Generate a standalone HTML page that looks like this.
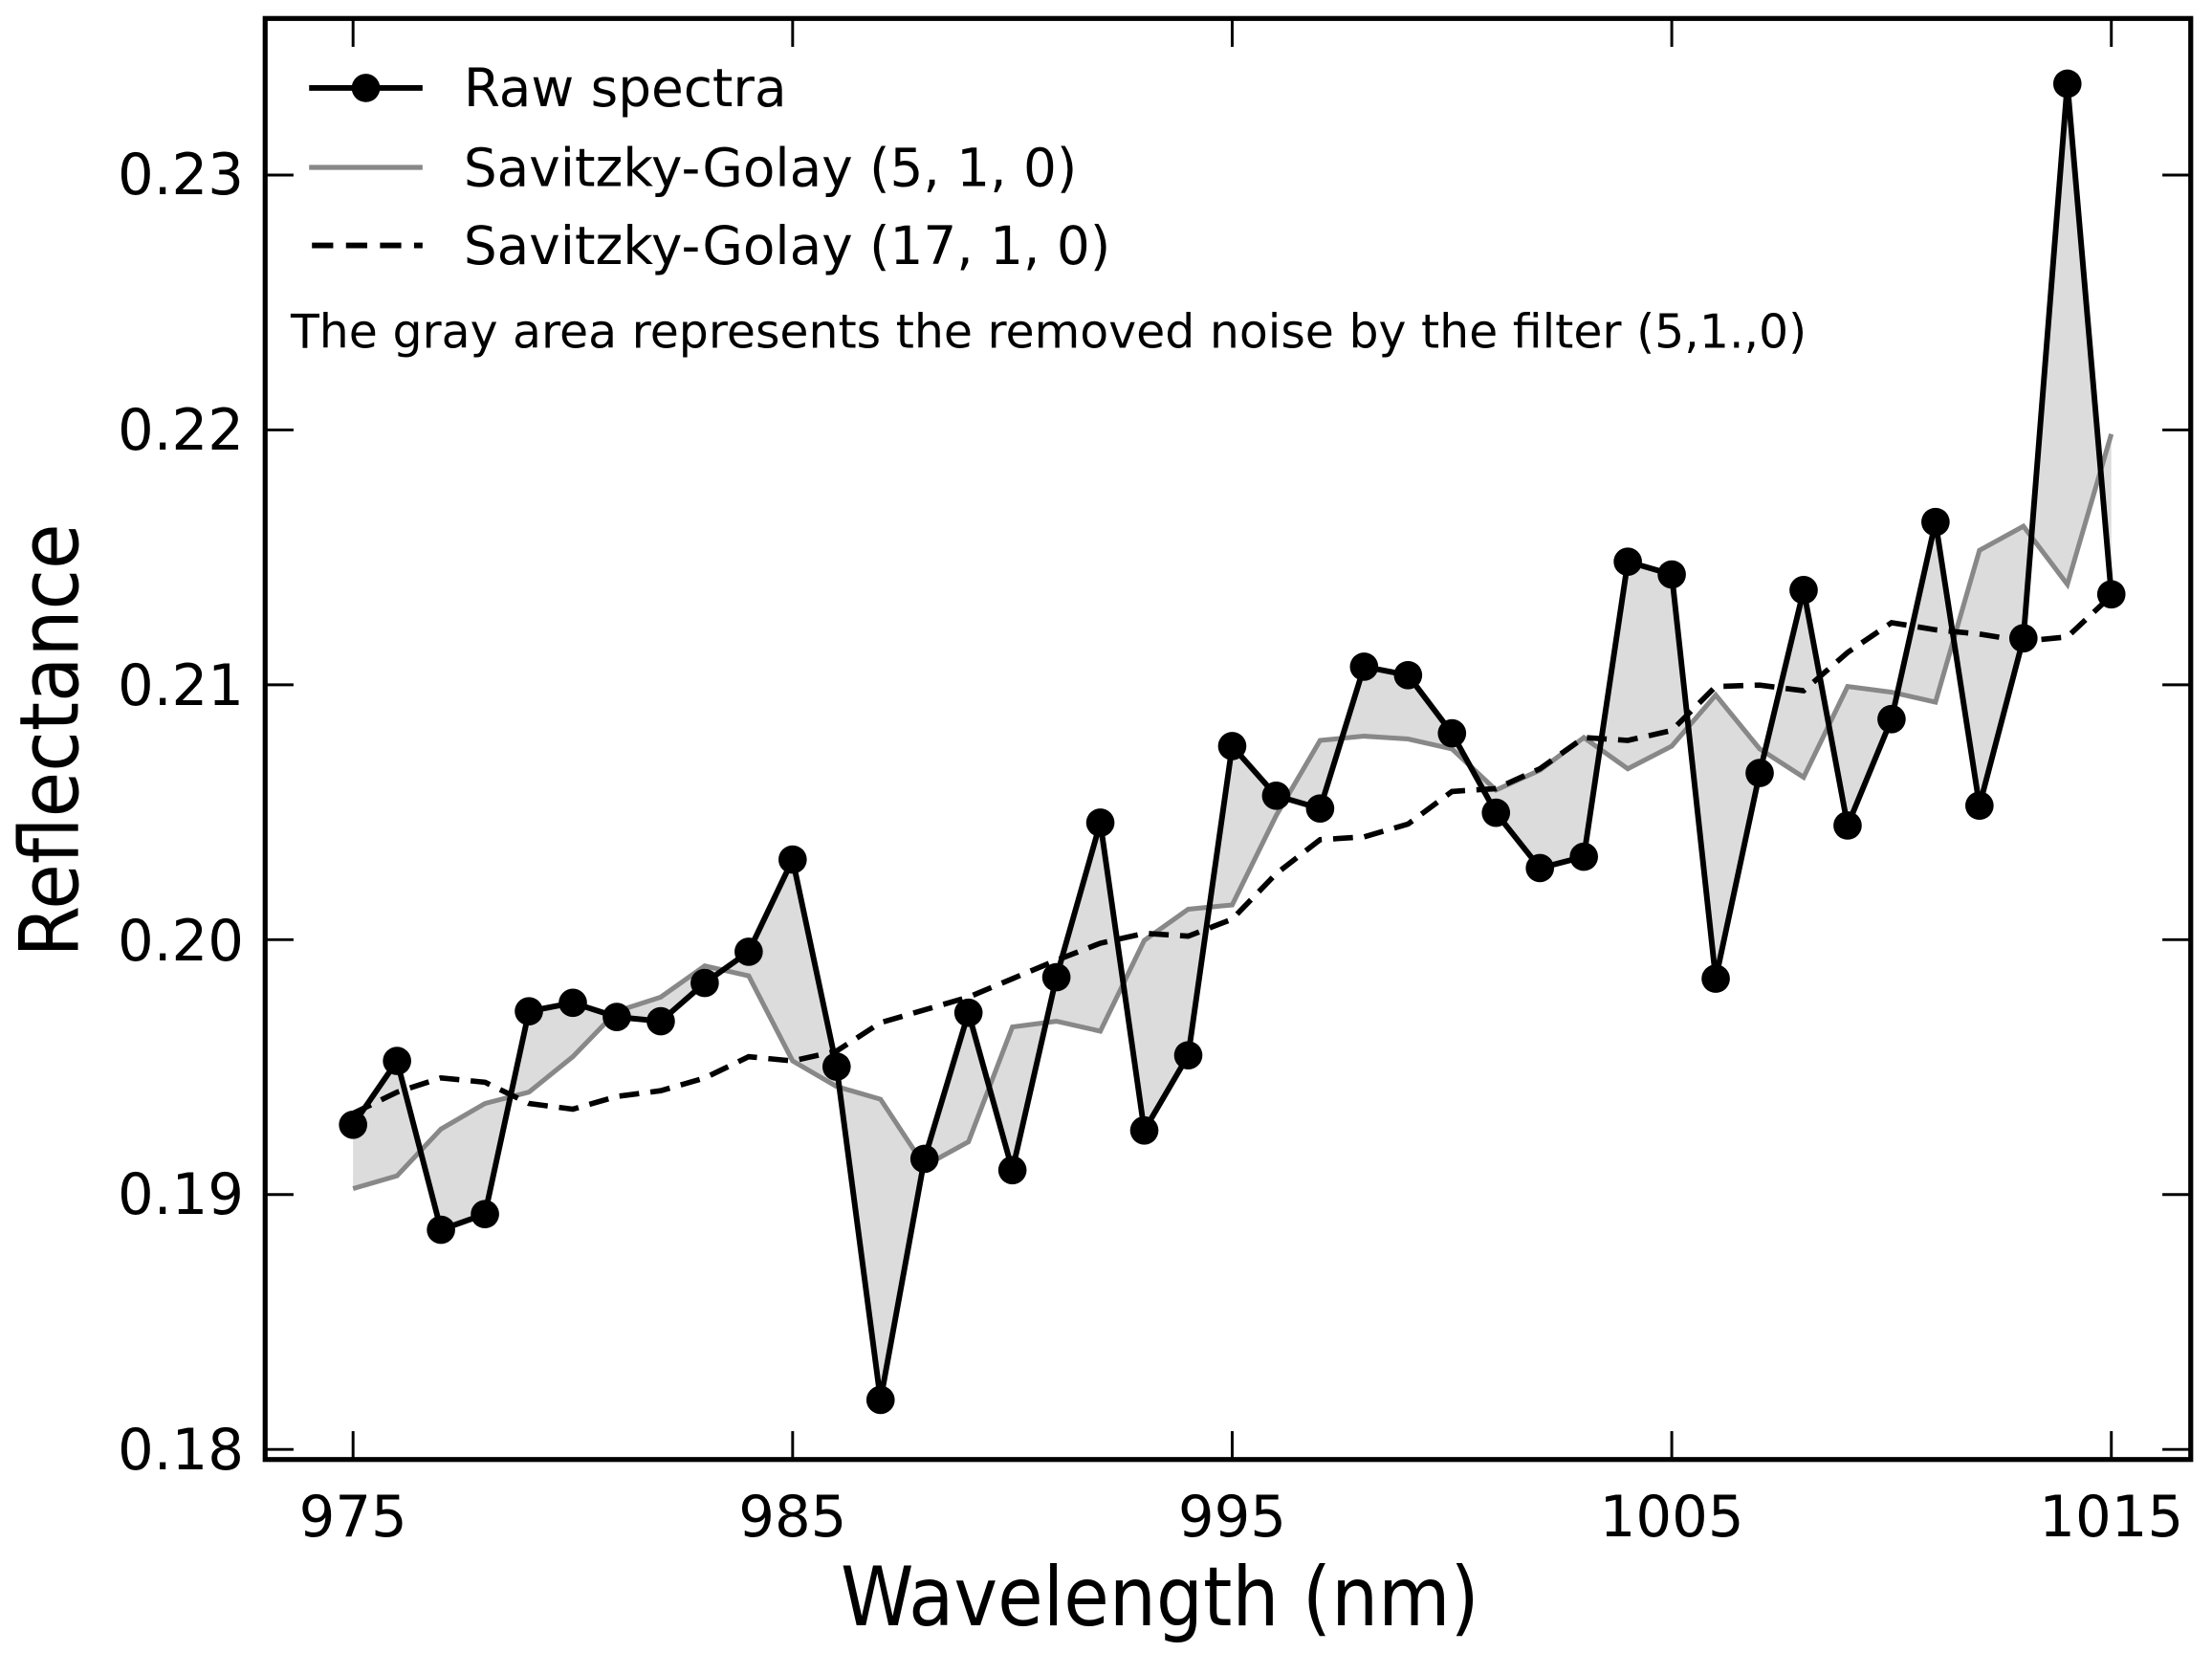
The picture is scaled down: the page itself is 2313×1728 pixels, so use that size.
<!DOCTYPE html>
<html><head><meta charset="utf-8"><style>
html,body{margin:0;padding:0;background:#fff;}
svg{display:block;}
text{font-family:"DejaVu Sans","Liberation Sans",sans-serif;fill:#000;}
.c{font-family:"DejaVu Sans Condensed","DejaVu Sans",sans-serif;}
</style></head><body>
<svg width="2313" height="1728" viewBox="0 0 1560 1165.4" xmlns="http://www.w3.org/2000/svg">
<defs>
<marker id="dot" markerUnits="userSpaceOnUse" markerWidth="24" markerHeight="24" refX="12" refY="12" viewBox="0 0 24 24"><circle cx="12" cy="12" r="10" fill="#000"/></marker>
</defs>
<rect width="1560" height="1166" fill="#fff"/>
<polygon fill="#dcdcdc" stroke="none" points="249,793 280,748 311,867 342,856 373,713 404,707 435,717 466,720 497,693 528,671 559,606 590,752 621,987 652,817 683,714 714,825 745,689 776,580 807,797 838,744 869,526 900,561 931,570 962,470 993,476 1024,517 1055,573 1086,612 1117,604 1148,396 1179,405 1210,690 1241,545 1272,416 1303,582 1334,507 1365,368 1396,568 1427,450 1458,59 1489,419 1489,306 1458,412 1427,371 1396,388 1365,495 1334,488 1303,484 1272,548 1241,528 1210,490 1179,526 1148,542 1117,520 1086,543 1055,557 1024,528 993,521 962,519 931,522 900,575 869,638 838,641 807,663 776,727 745,720 714,724 683,805 652,822 621,775 590,766 559,748 528,688 497,681 466,703 435,713 404,745 373,770 342,778 311,796 280,829 249,838"/>
<polyline fill="none" stroke="#888" stroke-width="3.4" points="249,838 280,829 311,796 342,778 373,770 404,745 435,713 466,703 497,681 528,688 559,748 590,766 621,775 652,822 683,805 714,724 745,720 776,727 807,663 838,641 869,638 900,575 931,522 962,519 993,521 1024,528 1055,557 1086,543 1117,520 1148,542 1179,526 1210,490 1241,528 1272,548 1303,484 1334,488 1365,495 1396,388 1427,371 1458,412 1489,306"/>
<polyline fill="none" stroke="#000" stroke-width="3.8" stroke-dasharray="14,8" points="249,785 280,770 311,760 342,763 373,778 404,782 435,773 466,769 497,760 528,745 559,748 590,741 621,721 652,712 683,703 714,690 745,677 776,665 807,658 838,660 869,648 900,616 931,592 962,590 993,581 1024,558 1055,556 1086,542 1117,520 1148,522 1179,515 1210,484 1241,483 1272,487 1303,460 1334,439 1365,444 1396,447 1427,452 1458,449 1489,420"/>
<polyline fill="none" stroke="#000" stroke-width="4" stroke-linejoin="round" marker-start="url(#dot)" marker-mid="url(#dot)" marker-end="url(#dot)" points="249,793 280,748 311,867 342,856 373,713 404,707 435,717 466,720 497,693 528,671 559,606 590,752 621,987 652,817 683,714 714,825 745,689 776,580 807,797 838,744 869,526 900,561 931,570 962,470 993,476 1024,517 1055,573 1086,612 1117,604 1148,396 1179,405 1210,690 1241,545 1272,416 1303,582 1334,507 1365,368 1396,568 1427,450 1458,59 1489,419"/>
<rect x="187" y="13" width="1358" height="1016" fill="none" stroke="#000" stroke-width="3.5"/>
<g stroke="#000" stroke-width="2">
<line x1="249" y1="1029" x2="249" y2="1009"/><line x1="249" y1="13" x2="249" y2="33"/>
<line x1="559" y1="1029" x2="559" y2="1009"/><line x1="559" y1="13" x2="559" y2="33"/>
<line x1="869" y1="1029" x2="869" y2="1009"/><line x1="869" y1="13" x2="869" y2="33"/>
<line x1="1179" y1="1029" x2="1179" y2="1009"/><line x1="1179" y1="13" x2="1179" y2="33"/>
<line x1="1489" y1="1029" x2="1489" y2="1009"/><line x1="1489" y1="13" x2="1489" y2="33"/>
<line x1="187" y1="123.4" x2="207" y2="123.4"/><line x1="1545" y1="123.4" x2="1525" y2="123.4"/>
<line x1="187" y1="303.1" x2="207" y2="303.1"/><line x1="1545" y1="303.1" x2="1525" y2="303.1"/>
<line x1="187" y1="482.8" x2="207" y2="482.8"/><line x1="1545" y1="482.8" x2="1525" y2="482.8"/>
<line x1="187" y1="662.5" x2="207" y2="662.5"/><line x1="1545" y1="662.5" x2="1525" y2="662.5"/>
<line x1="187" y1="842.2" x2="207" y2="842.2"/><line x1="1545" y1="842.2" x2="1525" y2="842.2"/>
<line x1="187" y1="1021.9" x2="207" y2="1021.9"/><line x1="1545" y1="1021.9" x2="1525" y2="1021.9"/>
</g>
<g font-size="40" text-anchor="middle">
<text x="249" y="1083">975</text><text x="559" y="1083">985</text><text x="869" y="1083">995</text><text x="1179" y="1083">1005</text><text x="1489" y="1083">1015</text>
</g>
<g font-size="40" text-anchor="end">
<text x="172" y="137">0.23</text><text x="172" y="317">0.22</text><text x="172" y="497">0.21</text><text x="172" y="677">0.20</text><text x="172" y="856">0.19</text><text x="172" y="1036">0.18</text>
</g>
<text class="c" x="818" y="1146" font-size="58" text-anchor="middle">Wavelength (nm)</text>
<text class="c" transform="translate(55,522) rotate(-90)" font-size="58" text-anchor="middle">Reflectance</text>
<line x1="218" y1="62" x2="298" y2="62" stroke="#000" stroke-width="4"/><circle cx="258" cy="62" r="10" fill="#000"/>
<line x1="218" y1="118" x2="298" y2="118" stroke="#888" stroke-width="3.5"/>
<line x1="220" y1="173" x2="298" y2="173" stroke="#000" stroke-width="4" stroke-dasharray="15,9"/>
<text x="327" y="75" font-size="37">Raw spectra</text>
<text x="327" y="131" font-size="37">Savitzky-Golay (5, 1, 0)</text>
<text x="327" y="186" font-size="37">Savitzky-Golay (17, 1, 0)</text>
<text x="205" y="245" font-size="33">The gray area represents the removed noise by the filter (5,1.,0)</text>
</svg>
</body></html>
